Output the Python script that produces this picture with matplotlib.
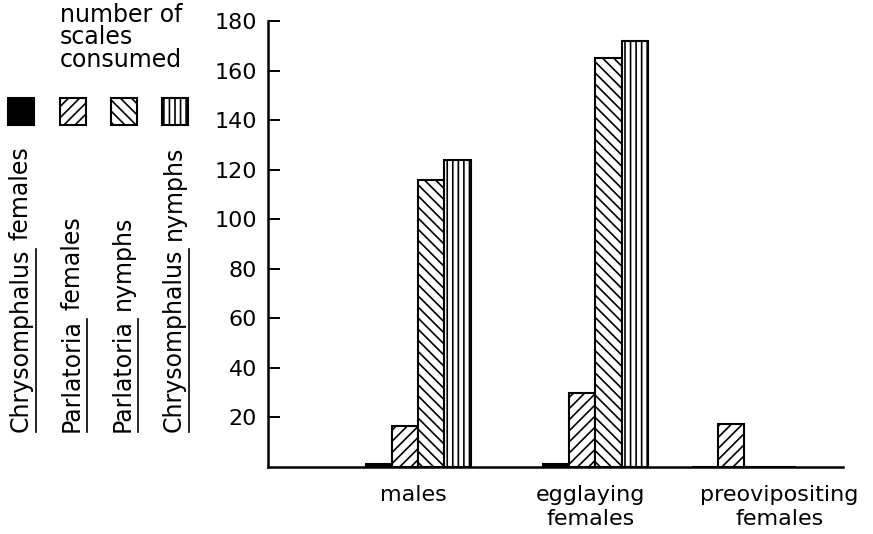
import matplotlib.pyplot as plt
import numpy as np

plt.rcParams['font.family'] = ['DejaVu Sans']
plt.rcParams['hatch.linewidth'] = 1.2

groups = ['males', 'egglaying\nfemales', 'preovipositing\nfemales']
series = ['Chrysomphalus females', 'Parlatoria females',
          'Parlatoria nymphs', 'Chrysomphalus nymphs']
chrys_females = [1.2, 1.2, 0]
parl_females = [16.5, 30, 17.5]
parl_nymphs = [116, 165, 0]
chrys_nymphs = [124, 172, 0]
values = [chrys_females, parl_females, parl_nymphs, chrys_nymphs]
yticks = [20, 40, 60, 80, 100, 120, 140, 160, 180]

# layout (not data)
group_x = np.array([0, 1, 1.84])
label_x = [-0.03, 0.97, 2.04]
width = 0.147
hatches = [None, '///', '\\\\\\', '|||']
faces = ['black', 'white', 'white', 'white']

fig = plt.figure(figsize=(8.73, 5.34), dpi=100)
ax = fig.add_axes([0.307, 0.1255, 0.659, 0.8352])

for i, vals in enumerate(values):
    xs = group_x + (i - 1.5) * width
    ax.bar(xs, vals, width=width, color=faces[i], edgecolor='black',
           linewidth=1.5, hatch=hatches[i], zorder=2)

ax.set_xlim(-0.85, 2.40)
ax.set_ylim(0, 180)
for s in ['top', 'right']:
    ax.spines[s].set_visible(False)
ax.spines['left'].set_linewidth(1.8)
ax.spines['bottom'].set_linewidth(1.8)
ax.set_yticks(yticks)
ax.tick_params(axis='y', direction='in', length=8.6, width=1.4, pad=8,
               labelsize=16)
ax.set_xticks(label_x)
ax.set_xticklabels(groups, fontsize=16, linespacing=1.25)
ax.tick_params(axis='x', length=0, pad=13)

# header text
fig.text(60 / 873, 1 - 3 / 534, 'number of\nscales\nconsumed', ha='left',
         va='top', fontsize=17, linespacing=0.92)

# legend swatches
sw_x = [8, 60, 111, 162]
for i in range(4):
    r = plt.Rectangle((sw_x[i] / 873, 1 - 125 / 534), 26 / 873, 27 / 534,
                      transform=fig.transFigure, facecolor=faces[i],
                      edgecolor='black', linewidth=1.5, hatch=hatches[i])
    fig.add_artist(r)

# rotated legend labels with underlined genus
col_x = [21, 72, 123, 174]
bottom = 1 - 432 / 534
fig.canvas.draw()
renderer = fig.canvas.get_renderer()
for i, name in enumerate(series):
    genus, rest = name.split(' ')
    t1 = fig.text(col_x[i] / 873, bottom, genus, rotation=90, ha='center',
                  va='bottom', fontsize=17)
    bb = t1.get_window_extent(renderer).transformed(fig.transFigure.inverted())
    fig.text(col_x[i] / 873, bb.y1 + 9 / 534, rest, rotation=90, ha='center',
             va='bottom', fontsize=17)
    fig.add_artist(plt.Line2D([bb.x1 + 3 / 873] * 2, [bb.y0, bb.y1],
                              transform=fig.transFigure, color='black',
                              linewidth=1.2))

fig.savefig('out.png', dpi=100)
